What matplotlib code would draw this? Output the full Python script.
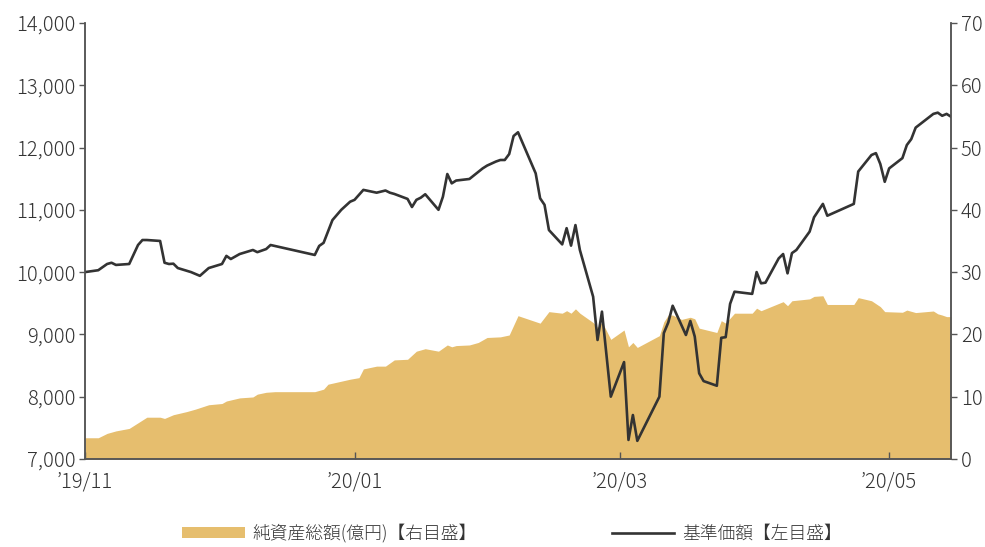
import numpy as np
import pandas as pd
import matplotlib
matplotlib.use('Agg')
import matplotlib.pyplot as plt
from matplotlib.patches import Patch
from matplotlib.lines import Line2D

plt.rcParams['font.family'] = ['Noto Sans CJK JP', 'DejaVu Sans']
plt.rcParams['font.weight'] = 'light'

# 基準価額 (left axis)
nav_dates = ['2019-11-01', '2019-11-04', '2019-11-06', '2019-11-07', '2019-11-08', '2019-11-11',
             '2019-11-13', '2019-11-14', '2019-11-15', '2019-11-18', '2019-11-19', '2019-11-20',
             '2019-11-21', '2019-11-22', '2019-11-25', '2019-11-27', '2019-11-29', '2019-12-02',
             '2019-12-03', '2019-12-04', '2019-12-06', '2019-12-09', '2019-12-10', '2019-12-12',
             '2019-12-13', '2019-12-23', '2019-12-24', '2019-12-25', '2019-12-27', '2019-12-29',
             '2019-12-31', '2020-01-01', '2020-01-02', '2020-01-03', '2020-01-06', '2020-01-08',
             '2020-01-09', '2020-01-10', '2020-01-13', '2020-01-14', '2020-01-15', '2020-01-16',
             '2020-01-17', '2020-01-20', '2020-01-21', '2020-01-22', '2020-01-23', '2020-01-24',
             '2020-01-27', '2020-01-30', '2020-01-31', '2020-02-02', '2020-02-03', '2020-02-04',
             '2020-02-05', '2020-02-06', '2020-02-07', '2020-02-11', '2020-02-12', '2020-02-13',
             '2020-02-14', '2020-02-17', '2020-02-18', '2020-02-19', '2020-02-20', '2020-02-21',
             '2020-02-24', '2020-02-25', '2020-02-26', '2020-02-28', '2020-03-02', '2020-03-03',
             '2020-03-04', '2020-03-05', '2020-03-10', '2020-03-11', '2020-03-12', '2020-03-13',
             '2020-03-16', '2020-03-17', '2020-03-18', '2020-03-19', '2020-03-20', '2020-03-23',
             '2020-03-24', '2020-03-25', '2020-03-26', '2020-03-27', '2020-03-31', '2020-04-01',
             '2020-04-02', '2020-04-03', '2020-04-06', '2020-04-07', '2020-04-08', '2020-04-09',
             '2020-04-10', '2020-04-13', '2020-04-14', '2020-04-16', '2020-04-17', '2020-04-23',
             '2020-04-24', '2020-04-27', '2020-04-28', '2020-04-29', '2020-04-30', '2020-05-01',
             '2020-05-04', '2020-05-05', '2020-05-06', '2020-05-07', '2020-05-11', '2020-05-12',
             '2020-05-13', '2020-05-14', '2020-05-15']
nav_values = [10000, 10030, 10130, 10150, 10115, 10130,
              10435, 10515, 10515, 10500, 10150, 10130,
              10135, 10065, 10000, 9940, 10065, 10130,
              10260, 10210, 10290, 10355, 10320, 10370,
              10435, 10275, 10420, 10470, 10835, 11000,
              11130, 11160, 11240, 11320, 11275, 11310,
              11275, 11255, 11175, 11045, 11160, 11195,
              11250, 11000, 11210, 11575, 11425, 11470,
              11495, 11665, 11710, 11775, 11800, 11800,
              11895, 12185, 12245, 11585, 11185, 11080,
              10675, 10445, 10705, 10425, 10755, 10355,
              9605, 8910, 9365, 8000, 8555, 7305,
              7705, 7290, 8000, 9020, 9190, 9460,
              8990, 9215, 8965, 8375, 8250, 8175,
              8945, 8955, 9490, 9685, 9650, 10000,
              9820, 9830, 10220, 10290, 9980, 10305,
              10355, 10650, 10880, 11095, 10905, 11095,
              11615, 11880, 11910, 11735, 11450, 11665,
              11830, 12040, 12135, 12320, 12540, 12560,
              12510, 12540, 12495]

# 純資産総額 (億円, right axis)
aum_dates = ['2019-11-01', '2019-11-04', '2019-11-06', '2019-11-08', '2019-11-11', '2019-11-13',
             '2019-11-15', '2019-11-18', '2019-11-19', '2019-11-21', '2019-11-24', '2019-11-26',
             '2019-11-29', '2019-12-02', '2019-12-03', '2019-12-06', '2019-12-09', '2019-12-10',
             '2019-12-12', '2019-12-14', '2019-12-23', '2019-12-25', '2019-12-26', '2019-12-31',
             '2020-01-02', '2020-01-03', '2020-01-06', '2020-01-08', '2020-01-10', '2020-01-13',
             '2020-01-15', '2020-01-17', '2020-01-20', '2020-01-22', '2020-01-23', '2020-01-24',
             '2020-01-27', '2020-01-29', '2020-01-31', '2020-02-03', '2020-02-05', '2020-02-07',
             '2020-02-12', '2020-02-14', '2020-02-17', '2020-02-18', '2020-02-19', '2020-02-20',
             '2020-02-21', '2020-02-24', '2020-02-25', '2020-02-26', '2020-02-28', '2020-03-02',
             '2020-03-03', '2020-03-04', '2020-03-05', '2020-03-10', '2020-03-11', '2020-03-12',
             '2020-03-13', '2020-03-15', '2020-03-17', '2020-03-18', '2020-03-19', '2020-03-23',
             '2020-03-24', '2020-03-25', '2020-03-27', '2020-03-31', '2020-04-01', '2020-04-02',
             '2020-04-07', '2020-04-08', '2020-04-09', '2020-04-13', '2020-04-14', '2020-04-16',
             '2020-04-17', '2020-04-23', '2020-04-24', '2020-04-27', '2020-04-29', '2020-04-30',
             '2020-05-04', '2020-05-05', '2020-05-07', '2020-05-11', '2020-05-12', '2020-05-13',
             '2020-05-14', '2020-05-15']
aum_values = [3.4, 3.4, 4.1, 4.5, 4.9, 5.8,
              6.7, 6.7, 6.5, 7.1, 7.6, 8.0,
              8.7, 8.9, 9.3, 9.8, 9.95, 10.4,
              10.7, 10.8, 10.8, 11.2, 12.0, 12.8,
              13.05, 14.45, 14.9, 14.9, 15.9, 16.0,
              17.3, 17.7, 17.3, 18.3, 18.0, 18.2,
              18.3, 18.7, 19.5, 19.6, 19.9, 23.0,
              21.8, 23.65, 23.4, 23.8, 23.4, 24.1,
              23.4, 21.9, 21.1, 22.0, 19.2, 20.7,
              18.0, 18.7, 17.9, 19.8, 22.0, 23.1,
              23.1, 22.4, 22.75, 22.5, 21.0, 20.3,
              22.2, 21.8, 23.4, 23.4, 24.2, 23.8,
              25.25, 24.6, 25.4, 25.7, 26.1, 26.2,
              24.8, 24.8, 25.9, 25.4, 24.45, 23.65,
              23.55, 23.9, 23.5, 23.75, 23.3, 23.1,
              22.85, 22.85]

tick_dates = ['2019-11-01', '2020-01-01', '2020-03-01', '2020-05-01']
tick_labels = ['\u201919/11', '\u201920/01', '\u201920/03', '\u201920/05']

line_color = '#333333'
area_color = '#E6BE6E'
spine_color = '#555555'
text_color = '#333333'

fig = plt.figure(figsize=(9.85, 5.47), dpi=100)
ax = fig.add_axes([0.0863, 0.161, 0.8792, 0.797])
ax2 = ax.twinx()

ax2.fill_between(pd.to_datetime(aum_dates), aum_values, 0, color=area_color, linewidth=0)
ax.plot(pd.to_datetime(nav_dates), nav_values, color=line_color, linewidth=1.9)

ax.set_zorder(ax2.get_zorder() + 1)
ax.patch.set_visible(False)

ax.set_xlim(pd.Timestamp('2019-11-01'), pd.Timestamp('2020-05-15'))
ax.set_ylim(7000, 14000)
ax2.set_ylim(0, 70)

ax.set_yticks(np.arange(7000, 14001, 1000))
ax.set_yticklabels(['{:,}'.format(v) for v in range(7000, 14001, 1000)])
ax2.set_yticks(np.arange(0, 71, 10))

ax.set_xticks(pd.to_datetime(tick_dates))
ax.set_xticklabels(tick_labels)

for a in (ax, ax2):
    a.spines['top'].set_visible(False)
    for s in ('left', 'right', 'bottom'):
        a.spines[s].set_color(spine_color)
        a.spines[s].set_linewidth(1.1)

ax.tick_params(axis='y', direction='out', length=4, width=1, color=spine_color,
               labelsize=14.5, labelcolor=text_color, pad=3)
ax2.tick_params(axis='y', direction='out', length=4, width=1, color=spine_color,
                labelsize=14.5, labelcolor=text_color, pad=3)
ax.tick_params(axis='x', direction='in', length=5, width=1, color=spine_color,
               labelsize=14.5, labelcolor=text_color, pad=9)

handles = [Patch(facecolor=area_color, edgecolor='none'),
           Line2D([0], [0], color=line_color, linewidth=1.9)]
labels = ['純資産総額(億円)【右目盛】', '基準価額【左目盛】']
fig.legend(handles, labels, loc='center', bbox_to_anchor=(0.52, 0.025), ncol=2,
           frameon=False, fontsize=12.8, handlelength=3.5, handleheight=0.6,
           handletextpad=0.45, columnspacing=7.6, labelcolor=text_color)

fig.savefig('out.png', dpi=100)
